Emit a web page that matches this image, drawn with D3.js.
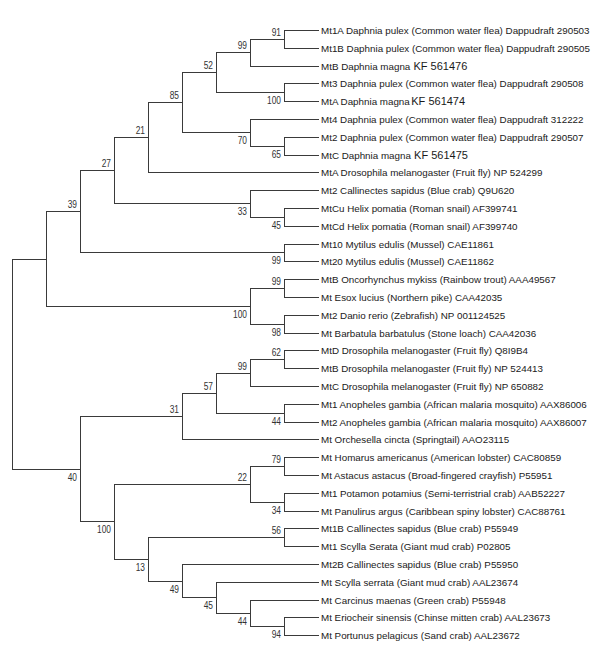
<!DOCTYPE html>
<html><head><meta charset="utf-8">
<script src="https://cdn.jsdelivr.net/npm/d3@7"></script>
<style>
body{margin:0;background:#fff;}
svg{display:block;font-family:Arial,"Liberation Sans",sans-serif;}
</style></head>
<body><svg id="c" width="601" height="659"></svg>
<script>
// Leaf labels (top to bottom); "|" marks the accession written in a larger font
const leaves = [
 "Mt1A Daphnia pulex (Common water flea) Dappudraft 290503",
 "Mt1B Daphnia pulex (Common water flea) Dappudraft 290505",
 "MtB Daphnia magna|KF 561476",
 "Mt3 Daphnia pulex (Common water flea) Dappudraft 290508",
 "MtA Daphnia magna|KF 561474",
 "Mt4 Daphnia pulex (Common water flea) Dappudraft 312222",
 "Mt2 Daphnia pulex (Common water flea) Dappudraft 290507",
 "MtC Daphnia magna|KF 561475",
 "MtA Drosophila melanogaster (Fruit fly) NP 524299",
 "Mt2 Callinectes sapidus (Blue crab) Q9U620",
 "MtCu Helix pomatia (Roman snail) AF399741",
 "MtCd Helix pomatia (Roman snail) AF399740",
 "Mt10 Mytilus edulis (Mussel) CAE11861",
 "Mt20 Mytilus edulis (Mussel) CAE11862",
 "MtB Oncorhynchus mykiss (Rainbow trout) AAA49567",
 "Mt Esox lucius (Northern pike) CAA42035",
 "Mt2 Danio rerio (Zebrafish) NP 001124525",
 "Mt Barbatula barbatulus (Stone loach) CAA42036",
 "MtD Drosophila melanogaster (Fruit fly) Q8I9B4",
 "MtB Drosophila melanogaster (Fruit fly) NP 524413",
 "MtC Drosophila melanogaster (Fruit fly) NP 650882",
 "Mt1 Anopheles gambia (African malaria mosquito) AAX86006",
 "Mt2 Anopheles gambia (African malaria mosquito) AAX86007",
 "Mt Orchesella cincta (Springtail) AAO23115",
 "Mt Homarus americanus (American lobster) CAC80859",
 "Mt Astacus astacus (Broad-fingered crayfish) P55951",
 "Mt1 Potamon potamius (Semi-terristrial crab) AAB52227",
 "Mt Panulirus argus (Caribbean spiny lobster) CAC88761",
 "Mt1B Callinectes sapidus (Blue crab) P55949",
 "Mt1 Scylla Serata (Giant mud crab) P02805",
 "Mt2B Callinectes sapidus (Blue crab) P55950",
 "Mt Scylla serrata (Giant mud crab) AAL23674",
 "Mt Carcinus maenas (Green crab) P55948",
 "Mt Eriocheir sinensis (Chinse mitten crab) AAL23673",
 "Mt Portunus pelagicus (Sand crab) AAL23672"
];
// Topology (leaf indices) with bootstrap support values
const newick = "(((((((((0,1)91,2)99,(3,4)100)52,(5,(6,7)65)70)85,8)21,(9,(10,11)45)33)27,(12,13)99)39,((14,15)99,(16,17)98)100),(((((18,19)62,20)99,(21,22)44)57,23)31,(((24,25)79,(26,27)34)22,((28,29)56,(30,(31,(32,(33,34)94)44)45)49)13)100)40)";

function parse(s){
  let i=0;
  function node(){
    let n={};
    if(s[i]==="("){
      i++; n.children=[];
      while(true){ n.children.push(node()); if(s[i]===","){i++;continue;} if(s[i]===")"){i++;break;} }
      let m=""; while(i<s.length && /[0-9]/.test(s[i])) m+=s[i++];
      n.support = m===""?null:+m;
    } else {
      let m=""; while(/[0-9]/.test(s[i])) m+=s[i++];
      n.leaf=+m;
    }
    return n;
  }
  return node();
}

const svg=d3.select("#c");
const mLeft=12, mRight=318, mTop=21, mBottom=644;
const root=d3.hierarchy(parse(newick));
d3.cluster().size([mBottom-mTop, mRight-mLeft]).separation(()=>1)(root);
const X=d=>Math.round(mLeft+d.y)+0.5, Y=d=>Math.round(mTop+d.x)+0.5;

const g=svg.append("g");
g.selectAll("path.link").data(root.links()).join("path")
 .attr("fill","none").attr("stroke","#3a3a3a").attr("stroke-width",1)
 .attr("shape-rendering","crispEdges")
 .attr("d",l=>`M${X(l.source)},${Y(l.source)}V${Y(l.target)}H${X(l.target)}`);

// leaf labels
const lt=g.selectAll("text.leaf").data(root.leaves()).join("text")
 .attr("x",d=>X(d)+2.5).attr("y",d=>Y(d)+3.5)
 .attr("font-size","9.8px").attr("fill","#1a1a1a");
lt.each(function(d){
  const parts=leaves[d.data.leaf].split("|");
  const t=d3.select(this);
  t.append("tspan").text(parts[0]);
  if(parts[1]) t.append("tspan").attr("font-size","11px").attr("dx", parts[1]==="KF 561474"?1.5:3.2).text(parts[1]);
});

// support labels
const inner=root.descendants().filter(d=>d.parent && d.children && d.data.support!=null);
g.selectAll("text.sup").data(inner).join("text")
 .attr("text-anchor","end")
 .attr("transform",d=>`translate(${X(d)-3.5},${d.parent.children[0]===d ? Y(d)-3.5 : Y(d)+11}) scale(0.84,1)`)
 .attr("font-size","10px").attr("fill","#333")
 .text(d=>d.data.support);
</script></body></html>
